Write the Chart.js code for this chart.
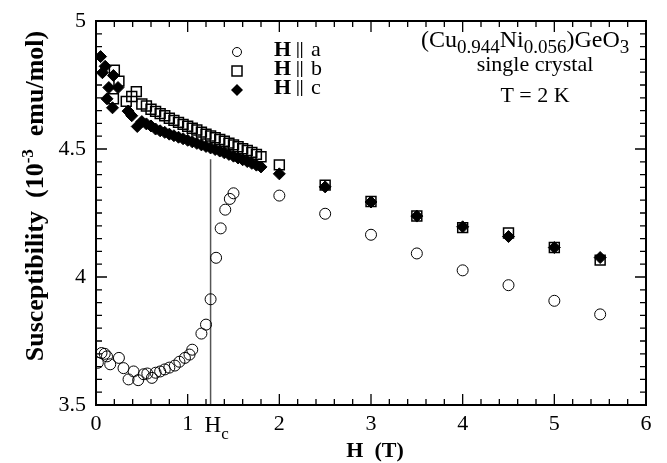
<!DOCTYPE html>
<html>
<head>
<meta charset="utf-8">
<script src="https://cdn.jsdelivr.net/npm/chart.js@4.4.1/dist/chart.umd.min.js"></script>
<style>
  html, body { margin: 0; padding: 0; background: #fff; }
  #wrap { width: 667px; height: 463px; }
</style>
</head>
<body>
<div id="wrap"><canvas id="chart" width="667" height="463"></canvas></div>
<script>
// H || a (open circles)
const fieldA = [0.02, 0.06, 0.095, 0.12, 0.155, 0.25, 0.30, 0.355, 0.41, 0.46,
  0.52, 0.56, 0.61, 0.65, 0.70, 0.75, 0.80, 0.86, 0.91, 0.97,
  1.02, 1.05, 1.15, 1.20, 1.25, 1.31, 1.36, 1.41, 1.46, 1.50,
  2.0, 2.5, 3.0, 3.5, 4.0, 4.5, 5.0, 5.5];
const chiA = [3.665, 3.703, 3.700, 3.690, 3.659, 3.684, 3.644, 3.600, 3.631, 3.597,
  3.620, 3.623, 3.606, 3.626, 3.631, 3.639, 3.646, 3.654, 3.669, 3.684,
  3.697, 3.716, 3.779, 3.814, 3.913, 4.075, 4.190, 4.263, 4.305, 4.327,
  4.318, 4.247, 4.165, 4.092, 4.026, 3.968, 3.907, 3.854];

// H || b (open squares)
const fieldB = [0.20, 0.25, 0.19, 0.33, 0.39, 0.44, 0.50, 0.55,
  0.60, 0.65, 0.70, 0.75, 0.80, 0.85, 0.90, 0.95, 1.00, 1.05,
  1.10, 1.15, 1.20, 1.25, 1.30, 1.35, 1.40, 1.45, 1.50, 1.55,
  1.60, 1.65, 1.70, 1.75, 1.80,
  2.0, 2.5, 3.0, 3.5, 4.0, 4.5, 5.0, 5.5];
const chiB = [4.808, 4.765, 4.696, 4.686, 4.705, 4.724, 4.676, 4.668,
  4.655, 4.647, 4.638, 4.630, 4.620, 4.612, 4.604, 4.596, 4.589, 4.581,
  4.574, 4.566, 4.558, 4.551, 4.544, 4.537, 4.530, 4.523, 4.516, 4.509,
  4.501, 4.494, 4.487, 4.479, 4.470,
  4.438, 4.359, 4.295, 4.238, 4.193, 4.172, 4.115, 4.066];

// H || c (filled diamonds)
const fieldC = [0.05, 0.10, 0.07, 0.19, 0.14, 0.24, 0.12, 0.18, 0.35, 0.39, 0.45, 0.50,
  0.55, 0.60, 0.65, 0.70, 0.75, 0.80, 0.85, 0.90, 0.95, 1.00, 1.05, 1.10, 1.15,
  1.20, 1.25, 1.30, 1.35, 1.40, 1.45, 1.50, 1.55, 1.60, 1.65, 1.70, 1.75, 1.80,
  2.0, 2.5, 3.0, 3.5, 4.0, 4.5, 5.0, 5.5];
const chiC = [4.861, 4.823, 4.798, 4.787, 4.740, 4.740, 4.696, 4.661, 4.648, 4.630, 4.588, 4.607,
  4.598, 4.590, 4.578, 4.571, 4.565, 4.558, 4.552, 4.546, 4.540, 4.534, 4.528, 4.522, 4.516,
  4.510, 4.504, 4.498, 4.492, 4.485, 4.479, 4.472, 4.465, 4.458, 4.451, 4.444, 4.437, 4.430,
  4.403, 4.352, 4.293, 4.238, 4.196, 4.158, 4.115, 4.076];

// critical field marker line
const hcField = [1.25, 1.25];
const hcChi = [3.5, 4.46];

// axes
const xTicks = [0, 1, 2, 3, 4, 5, 6];
const yTicks = [3.5, 4, 4.5, 5];
const xMinorStep = 0.2;
const yMinorStep = 0.05;

const serif = '"Liberation Serif", "Times New Roman", serif';

function pts(xs, ys) {
  return xs.map((x, i) => ({ x: x, y: ys[i] }));
}

// ticks on all four sides, frame, legend and labels
const decorations = {
  id: 'decorations',
  afterDraw(chart) {
    const ctx = chart.ctx;
    const xs = chart.scales.x, ys = chart.scales.y;
    const { left, right, top, bottom } = chart.chartArea;
    ctx.save();
    ctx.strokeStyle = '#000';
    ctx.lineWidth = 1.3;
    ctx.beginPath();
    const nx = Math.round((xTicks[xTicks.length - 1] - xTicks[0]) / xMinorStep);
    for (let i = 0; i <= nx; i++) {
      const px = xs.getPixelForValue(xTicks[0] + i * xMinorStep);
      const len = i % 5 === 0 ? 11 : 6;
      ctx.moveTo(px, bottom); ctx.lineTo(px, bottom - len);
      ctx.moveTo(px, top); ctx.lineTo(px, top + len);
    }
    const ny = Math.round((yTicks[yTicks.length - 1] - yTicks[0]) / yMinorStep);
    for (let i = 0; i <= ny; i++) {
      const py = ys.getPixelForValue(yTicks[0] + i * yMinorStep);
      const len = i % 10 === 0 ? 11 : 6;
      ctx.moveTo(left, py); ctx.lineTo(left + len, py);
      ctx.moveTo(right, py); ctx.lineTo(right - len, py);
    }
    ctx.stroke();
    ctx.lineWidth = 2;
    ctx.strokeRect(left, top, right - left, bottom - top);

    ctx.fillStyle = '#000';
    ctx.textBaseline = 'alphabetic';

    // H_c label next to tick "1"
    const hx = xs.getPixelForValue(hcField[0]);
    ctx.textAlign = 'left';
    ctx.font = '23px ' + serif;
    ctx.fillText('H', hx - 6, 432);
    const hw = ctx.measureText('H').width;
    ctx.font = '17px ' + serif;
    ctx.fillText('c', hx - 6 + hw, 439);

    // x title
    ctx.textAlign = 'center';
    ctx.font = 'bold 22px ' + serif;
    ctx.fillText('H  (T)', 375, 457);

    // y title (rotated, with superscript)
    ctx.save();
    ctx.translate(43, 196);
    ctx.rotate(-Math.PI / 2);
    ctx.textAlign = 'left';
    const parts = [
      { t: 'Susceptibility  (10', f: 'bold 26px ' + serif, dy: 0 },
      { t: '-3', f: 'bold 17px ' + serif, dy: -10 },
      { t: '  emu/mol)', f: 'bold 26px ' + serif, dy: 0 }
    ];
    let total = 0;
    parts.forEach(p => { ctx.font = p.f; p.w = ctx.measureText(p.t).width; total += p.w; });
    let cx = -total / 2;
    parts.forEach(p => { ctx.font = p.f; ctx.fillText(p.t, cx, p.dy); cx += p.w; });
    ctx.restore();

    // legend
    const legendX = 237;
    const rows = [
      { y: 52, axis: 'a', style: 'circle' },
      { y: 71, axis: 'b', style: 'square' },
      { y: 90, axis: 'c', style: 'diamond' }
    ];
    rows.forEach(r => {
      ctx.beginPath();
      if (r.style === 'circle') {
        ctx.lineWidth = 1;
        ctx.arc(legendX, r.y, 4.5, 0, Math.PI * 2);
        ctx.stroke();
      } else if (r.style === 'square') {
        ctx.lineWidth = 1.5;
        ctx.rect(legendX - 5, r.y - 5, 10, 10);
        ctx.stroke();
      } else {
        ctx.moveTo(legendX, r.y - 6);
        ctx.lineTo(legendX + 6, r.y);
        ctx.lineTo(legendX, r.y + 6);
        ctx.lineTo(legendX - 6, r.y);
        ctx.closePath();
        ctx.fill();
      }
      ctx.textAlign = 'left';
      const base = r.y + 4;
      ctx.font = 'bold 22px ' + serif;
      ctx.fillText('H', 274, base);
      ctx.font = 'bold 17px ' + serif;
      ctx.fillText('||', 296, base - 2);
      ctx.font = '22px ' + serif;
      ctx.fillText(r.axis, 311, base);
    });

    // sample annotation
    const formula = [
      { t: '(Cu', sub: false }, { t: '0.944', sub: true }, { t: 'Ni', sub: false },
      { t: '0.056', sub: true }, { t: ')GeO', sub: false }, { t: '3', sub: true }
    ];
    let fx = 421;
    ctx.textAlign = 'left';
    formula.forEach(p => {
      ctx.font = (p.sub ? '19px ' : '24px ') + serif;
      ctx.fillText(p.t, fx, p.sub ? 53 : 47);
      fx += ctx.measureText(p.t).width;
    });
    ctx.textAlign = 'center';
    ctx.font = '22px ' + serif;
    ctx.fillText('single crystal', 535, 71);
    ctx.fillText('T = 2 K', 535, 102);
    ctx.restore();
  }
};

new Chart(document.getElementById('chart').getContext('2d'), {
  type: 'scatter',
  data: {
    datasets: [
      {
        label: 'H || c', data: pts(fieldC, chiC), pointStyle: 'rectRot', pointRadius: 6,
        backgroundColor: '#000', borderColor: '#000', borderWidth: 1, order: 1
      },
      {
        label: 'H || b', data: pts(fieldB, chiB), pointStyle: 'rect', pointRadius: 7,
        backgroundColor: 'rgba(0,0,0,0)', borderColor: '#000', borderWidth: 1.5, order: 2
      },
      {
        label: 'H || a', data: pts(fieldA, chiA), pointStyle: 'circle', pointRadius: 5.5,
        backgroundColor: 'rgba(0,0,0,0)', borderColor: '#000', borderWidth: 1, order: 3
      },
      {
        label: 'Hc', data: pts(hcField, hcChi), showLine: true, pointRadius: 0,
        borderColor: '#555', borderWidth: 1.5, order: 4
      }
    ]
  },
  options: {
    responsive: false,
    animation: false,
    devicePixelRatio: 1,
    layout: { padding: { top: 12, right: 21, left: 0, bottom: 0 } },
    plugins: {
      legend: { display: false },
      tooltip: { enabled: false }
    },
    scales: {
      x: {
        type: 'linear', min: 0, max: 6,
        afterBuildTicks: s => { s.ticks = xTicks.map(v => ({ value: v })); },
        afterFit: s => { s.height = 58; },
        grid: { display: false, drawTicks: false },
        border: { display: false },
        ticks: {
          color: '#000', padding: 8, callback: v => String(v),
          font: { family: serif, size: 22, lineHeight: 1 }
        }
      },
      y: {
        type: 'linear', min: 3.5, max: 5,
        afterBuildTicks: s => { s.ticks = yTicks.map(v => ({ value: v })); },
        afterFit: s => { s.width = 96; },
        grid: { display: false, drawTicks: false },
        border: { display: false },
        ticks: {
          color: '#000', padding: 10, callback: v => String(v),
          font: { family: serif, size: 22, lineHeight: 1 }
        }
      }
    }
  },
  plugins: [decorations]
});
</script>
</body>
</html>
